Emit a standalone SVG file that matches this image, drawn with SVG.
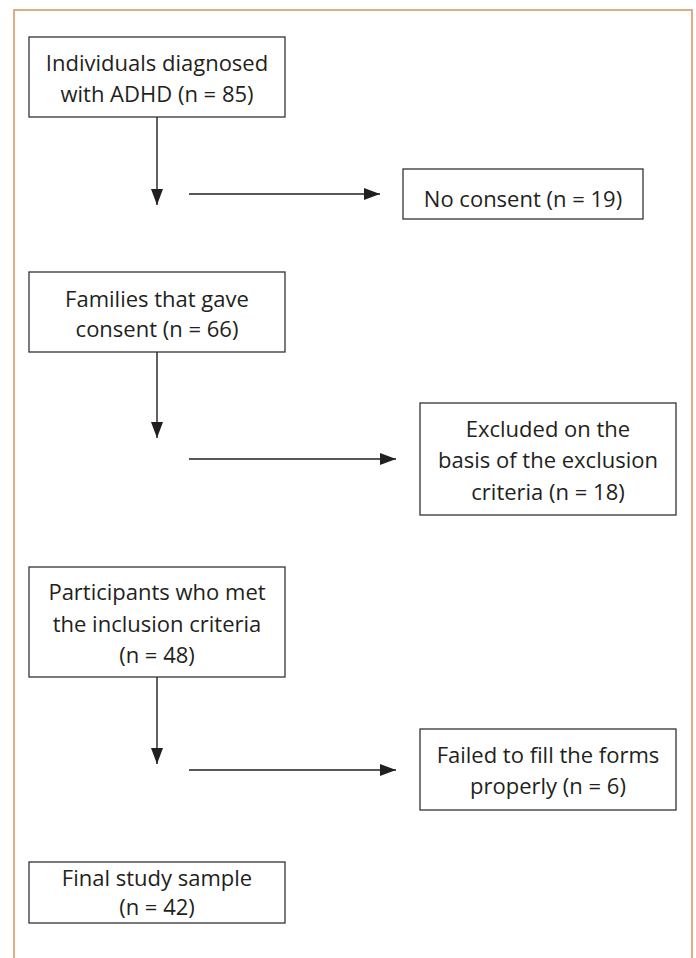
<svg xmlns="http://www.w3.org/2000/svg" width="696" height="958" viewBox="0 0 696 958">
<style>
.frame{fill:none;stroke:#d4925f;stroke-width:1.5}
.box{fill:#fff;stroke:#333;stroke-width:1.3}
.t{font-family:"Open Sans","Liberation Sans",sans-serif;font-size:22px;fill:#231f20;text-anchor:middle}
.c{stroke:#231f20;stroke-width:1.4;fill:none}
</style>
<defs>
<marker id="ah" markerWidth="16" markerHeight="12" refX="16" refY="6" orient="auto" markerUnits="userSpaceOnUse">
<path d="M0,0 L16,6 L0,12 Z" fill="#231f20"/>
</marker>
</defs>
<rect width="696" height="958" fill="#fff"/>
<path class="frame" d="M14,958 L14,10 L692,10 L692,958"/>
<g id="connectors">
<line class="c" x1="157" y1="117" x2="157" y2="205" marker-end="url(#ah)"/>
<line class="c" x1="189" y1="194" x2="380" y2="194" marker-end="url(#ah)"/>
<line class="c" x1="157" y1="352" x2="157" y2="438" marker-end="url(#ah)"/>
<line class="c" x1="189" y1="459" x2="396" y2="459" marker-end="url(#ah)"/>
<line class="c" x1="157" y1="677" x2="157" y2="764" marker-end="url(#ah)"/>
<line class="c" x1="189" y1="770" x2="396" y2="770" marker-end="url(#ah)"/>
</g>
<g id="n1">
<rect class="box" x="29" y="37" width="256" height="80"/>
<text class="t" x="157" y="71">Individuals diagnosed</text>
<text class="t" x="157" y="102">with ADHD (n = 85)</text>
</g>
<g id="n2">
<rect class="box" x="403" y="169" width="240" height="50"/>
<text class="t" x="523" y="207">No consent (n = 19)</text>
</g>
<g id="n3">
<rect class="box" x="29" y="272" width="256" height="80"/>
<text class="t" x="157" y="307">Families that gave</text>
<text class="t" x="157" y="337">consent (n = 66)</text>
</g>
<g id="n4">
<rect class="box" x="420" y="403" width="256" height="112"/>
<text class="t" x="548" y="437">Excluded on the</text>
<text class="t" x="548" y="468">basis of the exclusion</text>
<text class="t" x="548" y="500">criteria (n = 18)</text>
</g>
<g id="n5">
<rect class="box" x="29" y="567" width="256" height="110"/>
<text class="t" x="157" y="600">Participants who met</text>
<text class="t" x="157" y="632">the inclusion criteria</text>
<text class="t" x="157" y="663">(n = 48)</text>
</g>
<g id="n6">
<rect class="box" x="420" y="729" width="256" height="81"/>
<text class="t" x="548" y="763">Failed to fill the forms</text>
<text class="t" x="548" y="794">properly (n = 6)</text>
</g>
<g id="n7">
<rect class="box" x="29" y="862" width="256" height="61"/>
<text class="t" x="157" y="886">Final study sample</text>
<text class="t" x="157" y="915">(n = 42)</text>
</g>
</svg>
